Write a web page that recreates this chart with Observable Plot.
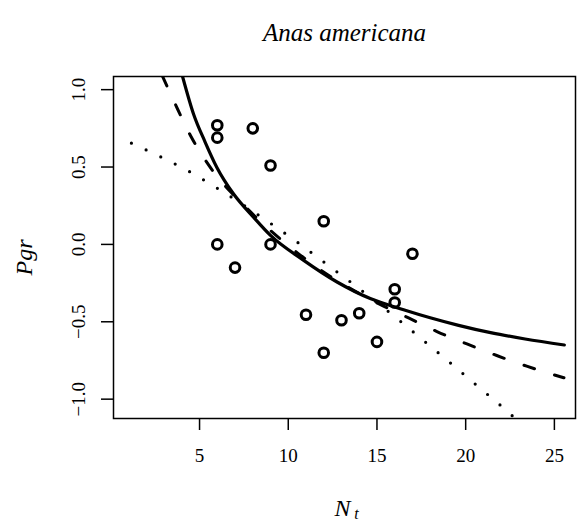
<!DOCTYPE html>
<html><head><meta charset="utf-8">
<script src="https://cdn.jsdelivr.net/npm/d3@7"></script>
<script src="https://cdn.jsdelivr.net/npm/@observablehq/plot@0.6"></script>
<style>body{margin:0;background:#fff}</style>
</head><body><div id="chart"></div>
<script>
const title = "Anas americana";
const xTicks = [5, 10, 15, 20, 25];
const yTicks = [-1, -0.5, 0, 0.5, 1];
const yTickLabels = ["\u22121.0", "\u22120.5", "0.0", "0.5", "1.0"];

// observed points
const pointX = [6, 6, 8, 9, 6, 9, 7, 12, 17, 16, 16, 11, 13, 14, 15, 12];
const pointY = [0.77, 0.69, 0.75, 0.51, 0.0, 0.0, -0.15, 0.15, -0.06, -0.29, -0.375, -0.455, -0.49, -0.445, -0.63, -0.70];

// solid fitted curve
const solidX = [4.03, 4.66, 5.32, 5.97, 6.91, 8.04, 9.0, 10.87, 12.75, 14.62, 16.5, 18.0, 19.6, 21.47, 23.35, 25.56];
const solidY = [1.09, 0.843, 0.66, 0.499, 0.327, 0.176, 0.058, -0.103, -0.243, -0.35, -0.422, -0.474, -0.523, -0.572, -0.611, -0.65];

// dashed fitted curve
const dashX = [2.9, 3.76, 4.51, 5.47, 7.8, 10.53, 12.03, 15.09, 16.78, 18.38, 20.07, 21.75, 23.44, 25.54];
const dashY = [1.09, 0.875, 0.699, 0.52, 0.219, -0.056, -0.181, -0.383, -0.475, -0.563, -0.643, -0.718, -0.787, -0.862];

// dotted fitted curve
const dotX = [1.16, 2.86, 4.48, 6.05, 7.6, 9.09, 10.59, 12.05, 13.51, 14.96, 16.41, 17.81, 19.22, 20.61, 22.01, 22.69];
const dotY = [0.654, 0.563, 0.467, 0.359, 0.245, 0.129, 0.008, -0.118, -0.243, -0.372, -0.505, -0.639, -0.774, -0.91, -1.045, -1.114];

const toRows = (xs, ys) => xs.map((x, i) => ({x, y: ys[i]}));
const pts = toRows(pointX, pointY);
const solid = toRows(solidX, solidY);
const dashed = toRows(dashX, dashY);
const dotted = toRows(dotX, dotY);

const serif = "Liberation Serif";

const chart = Plot.plot({
  width: 581,
  height: 524,
  marginTop: 76,
  marginLeft: 113,
  marginRight: 6,
  marginBottom: 106,
  x: {domain: [0.15, 26.19]},
  y: {domain: [-1.125, 1.085]},
  style: {fontFamily: serif, background: "white", color: "black"},
  marks: [
    Plot.frame({stroke: "black", strokeWidth: 1.5}),
    Plot.axisX(xTicks, {tickSize: 12, tickPadding: 18, fontSize: 19, fontFamily: serif, label: null, strokeWidth: 1.5}),
    Plot.axisY(yTicks, {tickSize: 12, tickFormat: () => "", label: null, strokeWidth: 1.5}),
    Plot.text(yTicks, {y: d => d, text: (d, i) => yTickLabels[i], frameAnchor: "left", dx: -35, rotate: -90, textAnchor: "middle", lineAnchor: "middle", fontSize: 19, fontFamily: serif}),
    Plot.line(dotted, {x: "x", y: "y", stroke: "black", strokeWidth: 3.2, strokeDasharray: "0,16.2", strokeLinecap: "round", curve: "monotone-x", clip: true}),
    Plot.line(dashed, {x: "x", y: "y", stroke: "black", strokeWidth: 3, strokeDasharray: "11,21", strokeLinecap: "round", curve: "monotone-x", clip: true}),
    Plot.line(solid, {x: "x", y: "y", stroke: "black", strokeWidth: 3.2, curve: "monotone-x", clip: true}),
    Plot.dot(pts, {x: "x", y: "y", r: 4.8, stroke: "black", strokeWidth: 3, fill: "none"}),
    Plot.text([title], {text: d => d, frameAnchor: "top", dy: -44, lineAnchor: "middle", textAnchor: "middle", fontSize: 25, fontStyle: "italic", fontFamily: serif}),
    Plot.text(["Pgr"], {text: d => d, frameAnchor: "left", dx: -89, dy: 10, rotate: -90, lineAnchor: "middle", textAnchor: "middle", fontSize: 24, fontStyle: "italic", fontFamily: serif}),
    Plot.text(["N"], {text: d => d, frameAnchor: "bottom", dx: -2, dy: 90, lineAnchor: "middle", textAnchor: "middle", fontSize: 24, fontStyle: "italic", fontFamily: serif}),
    Plot.text(["t"], {text: d => d, frameAnchor: "bottom", dx: 12, dy: 95, lineAnchor: "middle", textAnchor: "middle", fontSize: 16, fontStyle: "italic", fontFamily: serif})
  ]
});
document.getElementById("chart").appendChild(chart);
</script>
</body></html>
